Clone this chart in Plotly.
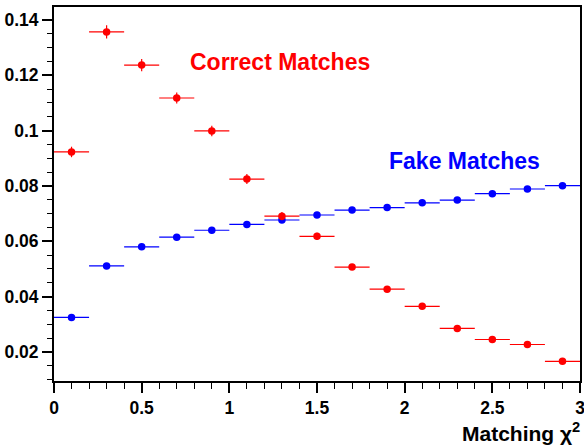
import plotly.graph_objects as go

chi2_bins = [0.1, 0.3, 0.5, 0.7, 0.9, 1.1, 1.3, 1.5, 1.7, 1.9, 2.1, 2.3, 2.5, 2.7, 2.9]
bin_half_width = [0.1] * 15
correct = [0.0923, 0.1357, 0.1237, 0.1118, 0.0999, 0.0825, 0.0691, 0.0618,
           0.0507, 0.0427, 0.0365, 0.0285, 0.0245, 0.0227, 0.0166]
correct_err = [0.0019, 0.0024, 0.0022, 0.0020, 0.0019, 0.0018, 0.0015, 0.0013,
               0.0011, 0.0010, 0.0009, 0.0008, 0.0008, 0.0007, 0.0006]
fake = [0.0325, 0.0511, 0.0580, 0.0615, 0.0640, 0.0661, 0.0677, 0.0695,
        0.0713, 0.0722, 0.0739, 0.0749, 0.0772, 0.0789, 0.0801]
fake_err = [0.0004] * 15

FONT = "Liberation Sans, Arial, Helvetica, sans-serif"

fig = go.Figure()
fig.add_trace(go.Scatter(
    x=chi2_bins, y=fake, mode="markers",
    marker=dict(color="#0000ff", size=7.5),
    error_x=dict(type="data", array=bin_half_width, color="#0000ff", width=0, thickness=1.2),
    error_y=dict(type="data", array=fake_err, color="#0000ff", width=0, thickness=1.2),
    showlegend=False))
fig.add_trace(go.Scatter(
    x=chi2_bins, y=correct, mode="markers",
    marker=dict(color="#ff0000", size=7.5),
    error_x=dict(type="data", array=bin_half_width, color="#ff0000", width=0, thickness=1.2),
    error_y=dict(type="data", array=correct_err, color="#ff0000", width=0, thickness=1.2),
    showlegend=False))

fig.add_annotation(x=0.763, y=0.1248, xref="x", yref="y", text="Correct Matches",
                   showarrow=False, xanchor="left", yanchor="middle",
                   font=dict(family=FONT, size=23, color="#ff0000", weight="bold"))
fig.add_annotation(x=1.90, y=0.089, xref="x", yref="y", text="Fake Matches",
                   showarrow=False, xanchor="left", yanchor="middle",
                   font=dict(family=FONT, size=23, color="#0000ff", weight="bold"))
fig.add_annotation(x=1.0, y=0, xref="paper", yref="paper", text="Matching χ<sup>2</sup>",
                   showarrow=False, xanchor="right", yanchor="top", yshift=-36, xshift=2,
                   font=dict(family=FONT, size=21, color="black", weight="bold"))

fig.update_layout(
    width=584, height=445,
    margin=dict(l=54, r=4, t=7, b=64, autoexpand=False),
    plot_bgcolor="white", paper_bgcolor="white",
    xaxis=dict(range=[0, 3], tickvals=[0, 0.5, 1, 1.5, 2, 2.5, 3],
               ticktext=["0", "0.5", "1", "1.5", "2", "2.5", "3"],
               ticks="outside", ticklen=10, tickwidth=1.5, tickcolor="black",
               minor=dict(dtick=0.1, tick0=0, ticks="outside", ticklen=6, tickwidth=1.2, tickcolor="black"),
               showgrid=False, zeroline=False, showline=True, linecolor="black", linewidth=2,
               mirror=True, automargin=False, ticklabeloverflow="allow",
               tickfont=dict(family=FONT, size=17.5, color="black", weight="bold")),
    yaxis=dict(range=[0.0095, 0.1447], tickvals=[0.02, 0.04, 0.06, 0.08, 0.1, 0.12, 0.14],
               ticktext=["0.02", "0.04", "0.06", "0.08", "0.1", "0.12", "0.14"],
               ticks="outside", ticklen=10, tickwidth=1.5, tickcolor="black",
               minor=dict(dtick=0.005, tick0=0, ticks="outside", ticklen=5, tickwidth=1.2, tickcolor="black"),
               showgrid=False, zeroline=False, showline=True, linecolor="black", linewidth=2,
               mirror=True, automargin=False, ticklabeloverflow="allow",
               tickfont=dict(family=FONT, size=17.5, color="black", weight="bold")),
)

fig.write_html("out.html", config={"displayModeBar": False},
               post_script="document.body.style.margin='0';document.body.style.overflow='hidden';")
